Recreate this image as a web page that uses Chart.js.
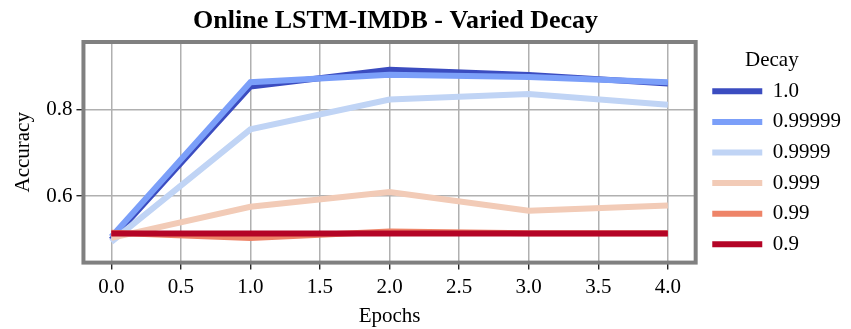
<!DOCTYPE html>
<html><head><meta charset="utf-8">
<script src="https://cdn.jsdelivr.net/npm/chart.js@4.4.0/dist/chart.umd.min.js"></script>
<style>html,body{margin:0;padding:0;background:#fff}#wrap{width:851px;height:329px}</style>
</head><body><div id="wrap"><canvas id="c" width="851" height="329"></canvas></div>
<script>
const epochs = [0, 1, 2, 3, 4];
const decayLabels = ["1.0", "0.99999", "0.9999", "0.999", "0.99", "0.9"];
const acc_1_0     = [0.499, 0.853, 0.892, 0.880, 0.860];
const acc_0_99999 = [0.505, 0.863, 0.880, 0.875, 0.863];
const acc_0_9999  = [0.494, 0.754, 0.823, 0.836, 0.811];
const acc_0_999   = [0.503, 0.575, 0.609, 0.566, 0.578];
const acc_0_99    = [0.515, 0.503, 0.518, 0.514, 0.514];
const acc_0_9     = [0.513, 0.513, 0.513, 0.513, 0.513];
const xTicks = [0, 0.5, 1, 1.5, 2, 2.5, 3, 3.5, 4];
const yTicks = [0.6, 0.8];
const colors = ["#3b4cc0", "#7b9ff9", "#c0d4f5", "#f2cbb7", "#ee8468", "#b40426"];
const series = [acc_1_0, acc_0_99999, acc_0_9999, acc_0_999, acc_0_99, acc_0_9];
const FONT = "'Liberation Serif', 'Times New Roman', serif";

const datasets = series.map((vals, i) => ({
  label: decayLabels[i],
  data: epochs.map((e, j) => ({x: e, y: vals[j]})),
  borderColor: colors[i],
  backgroundColor: colors[i],
  borderWidth: 6,
  pointRadius: 0,
  tension: 0,
  fill: false,
  order: series.length - i
}));

const framePlugin = {
  id: 'frame',
  afterDatasetsDraw(chart) {
    const {ctx, chartArea: a} = chart;
    ctx.save();
    ctx.strokeStyle = '#808080';
    ctx.lineWidth = 4;
    ctx.strokeRect(a.left, a.top, a.right - a.left, a.bottom - a.top);
    ctx.restore();
  },
  afterDraw(chart) {
    const {ctx, chartArea: a} = chart;
    ctx.save();
    ctx.fillStyle = '#000';
    ctx.font = "bold 26px " + FONT;
    ctx.textAlign = 'center';
    ctx.textBaseline = 'middle';
    ctx.fillText("Online LSTM-IMDB - Varied Decay", (a.left + a.right) / 2 + 6, 21);
    ctx.restore();
  }
};

new Chart(document.getElementById('c'), {
  type: 'line',
  data: {datasets},
  plugins: [framePlugin],
  options: {
    responsive: false,
    animation: false,
    layout: {padding: {top: 42, right: 10, left: 11, bottom: 0}},
    plugins: {
      title: {display: false},
      tooltip: {enabled: false},
      legend: {
        position: 'right',
        align: 'start',
        title: {display: true, text: 'Decay', color: '#000', font: {family: FONT, size: 21}, padding: {top: 8, bottom: -4}},
        labels: {
          color: '#000',
          font: {family: FONT, size: 21},
          boxWidth: 50,
          boxHeight: 6,
          padding: 9.6,
          sort: (a, b) => a.datasetIndex - b.datasetIndex,
          generateLabels: chart => Chart.defaults.plugins.legend.labels.generateLabels(chart).map(l => Object.assign(l, {lineWidth: 0}))
        }
      }
    },
    scales: {
      x: {
        type: 'linear',
        min: -0.2, max: 4.2,
        afterBuildTicks: s => { s.ticks = xTicks.map(v => ({value: v})); },
        ticks: {color: '#000', font: {family: FONT, size: 21}, callback: v => Number(v).toFixed(1), maxRotation: 0, autoSkip: false, padding: 5},
        grid: {color: '#b0b0b0', lineWidth: 1.5, tickColor: '#000', tickLength: 7, tickWidth: 1.2},
        border: {display: false},
        title: {display: true, text: 'Epochs', color: '#000', font: {family: FONT, size: 21}, padding: {top: -1, bottom: 0}}
      },
      y: {
        type: 'linear',
        min: 0.446, max: 0.956,
        afterBuildTicks: s => { s.ticks = yTicks.map(v => ({value: v})); },
        ticks: {color: '#000', font: {family: FONT, size: 21}, callback: v => Number(v).toFixed(1), padding: 4},
        grid: {color: '#b0b0b0', lineWidth: 1.5, tickColor: '#000', tickLength: 7, tickWidth: 1.2},
        border: {display: false},
        title: {display: true, text: 'Accuracy', color: '#000', font: {family: FONT, size: 21}, padding: {top: 0, bottom: 6}}
      },
      gap: {
        type: 'linear',
        position: 'right',
        display: true,
        ticks: {display: false},
        grid: {display: false},
        border: {display: false},
        afterFit: s => { s.width = 7; }
      }
    }
  }
});
</script></body></html>
